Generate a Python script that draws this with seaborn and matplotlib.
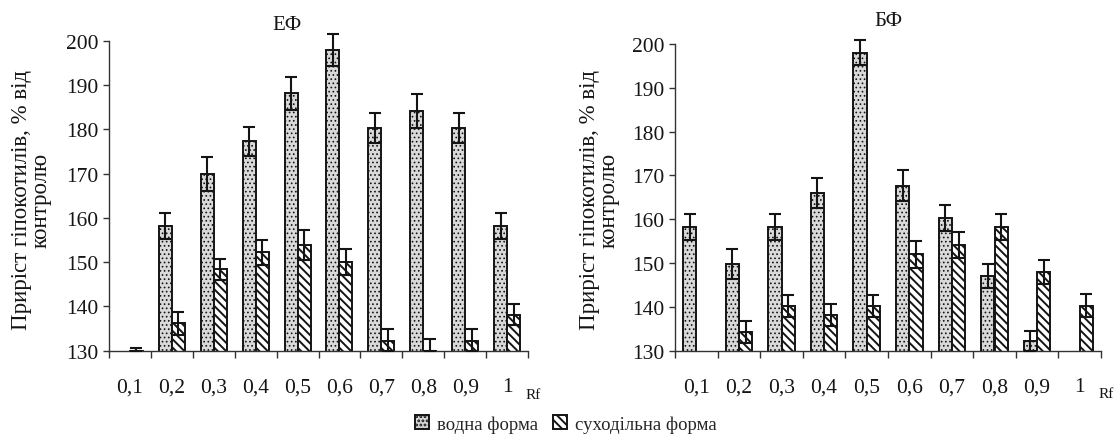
import numpy as np
import pandas as pd
import matplotlib
matplotlib.use("Agg")
import matplotlib.pyplot as plt
import seaborn as sns

# ---------------- data ----------------
rf_labels = ['0,1', '0,2', '0,3', '0,4', '0,5', '0,6', '0,7', '0,8', '0,9', '1']
form_names = ['водна форма', 'суходільна форма']
panel_titles = ['ЕФ', 'БФ']

ef_water = [np.nan, 158.2, 169.9, 177.3, 188.1, 197.9, 180.3, 184.2, 180.3, 158.2]
ef_water_err = [np.nan, 3.0, 3.9, 3.3, 3.8, 3.6, 3.4, 3.8, 3.4, 3.0]
ef_dry = [130.0, 136.2, 148.4, 152.2, 153.9, 150.1, 132.3, 130.0, 132.3, 138.1]
ef_dry_err = [0.6, 2.6, 2.4, 2.9, 3.4, 2.9, 2.6, 2.7, 2.6, 2.4]

bf_water = [158.2, 149.8, 158.2, 166.0, 198.0, 167.7, 160.3, 147.1, 132.3, np.nan]
bf_water_err = [3.0, 3.4, 3.0, 3.5, 2.9, 3.5, 3.0, 2.7, 2.3, np.nan]
bf_dry = [np.nan, 134.2, 140.3, 138.1, 140.3, 152.0, 154.2, 158.2, 148.0, 140.3]
bf_dry_err = [np.nan, 2.5, 2.5, 2.5, 2.5, 3.1, 3.0, 3.0, 2.7, 2.6]

y_ticks = [130, 140, 150, 160, 170, 180, 190, 200]
ylabel = 'Приріст гіпокотилів, % від\nконтролю'
xunit = 'Rf'


def long_df(water, water_err, dry, dry_err):
    rows = []
    for i, r in enumerate(rf_labels):
        rows.append((r, form_names[0], water[i], water_err[i]))
        rows.append((r, form_names[1], dry[i], dry_err[i]))
    return pd.DataFrame(rows, columns=['Rf', 'form', 'value', 'err'])


panels = [long_df(ef_water, ef_water_err, ef_dry, ef_dry_err),
          long_df(bf_water, bf_water_err, bf_dry, bf_dry_err)]

# ---------------- style ----------------
sns.set_theme(style='white')
FAM = ['Liberation Serif', 'DejaVu Serif']
plt.rcParams['font.family'] = FAM
plt.rcParams['font.serif'] = FAM
plt.rcParams['hatch.linewidth'] = 1.4
TXT = '#151515'

W, H = 1116, 439
fig = plt.figure(figsize=(W / 100, H / 100), dpi=100)

axes_px = [(109, 528, 41.7, 351.7), (675, 1101, 45.0, 351.7)]
ylabel_x = [31, 599]
title_pos = [(287, 25), (888, 21)]

styles = [dict(face='#d9d9d9', hatch='....', hlw=0.7),
          dict(face='white', hatch='\\\\\\\\', hlw=1.4)]

ymin, ymax = y_ticks[0], y_ticks[-1]

for k, df in enumerate(panels):
    x0, x1, yt, yb = axes_px[k]
    ax = fig.add_axes([x0 / W, 1 - yb / H, (x1 - x0) / W, (yb - yt) / H])
    sns.barplot(data=df, x='Rf', y='value', hue='form', order=rf_labels,
                hue_order=form_names, errorbar=None, width=0.62,
                palette=['#d9d9d9', 'white'], legend=False, ax=ax)

    for h, cont in enumerate(ax.containers[:2]):
        sub = df[df['form'] == form_names[h]].set_index('Rf')
        for p in cont:
            p.set_facecolor(styles[h]['face'])
            p.set_hatch(styles[h]['hatch'])
            if hasattr(p, 'set_hatch_linewidth'):
                p.set_hatch_linewidth(styles[h]['hlw'])
            p.set_edgecolor('#141414')
            p.set_linewidth(1.4)
            hgt = p.get_height()
            if not np.isfinite(hgt):
                continue
            xc = p.get_x() + p.get_width() / 2
            idx = int(round(xc))
            e = sub.loc[rf_labels[idx], 'err']
            if not np.isfinite(e):
                continue
            lo = min(e, hgt - ymin)
            ax.errorbar([xc], [hgt], yerr=[[lo], [e]], fmt='none',
                        ecolor='#141414', elinewidth=1.5, capsize=4.2,
                        capthick=1.5, clip_on=False, zorder=5)

    ax.set_ylim(ymin, ymax)
    ax.set_yticks(y_ticks)
    ax.set_xlim(-0.5, len(rf_labels) - 0.5)
    ax.set_xticks(range(len(rf_labels)))
    ax.set_xticklabels(rf_labels, fontfamily=FAM)
    ax.set_yticklabels([str(v) for v in y_ticks], fontfamily=FAM)
    ax.set_xticks(np.arange(-0.5, len(rf_labels), 1.0), minor=True)
    ax.set_xlabel('')
    ax.set_ylabel('')
    for s in ['top', 'right']:
        ax.spines[s].set_visible(False)
    for s in ['left', 'bottom']:
        ax.spines[s].set_color('#333333')
        ax.spines[s].set_linewidth(1.0)
    ax.tick_params(axis='x', which='major', length=0, pad=19, labelsize=15.5,
                   labelcolor=TXT)
    ax.tick_params(axis='x', which='minor', length=5, width=1.0,
                   direction='out', color='#333333', bottom=True)
    ax.tick_params(axis='y', which='major', length=4.5, width=1.0,
                   direction='out', left=True, pad=3, labelsize=15.5,
                   color='#333333', labelcolor=TXT)

    ax.text(0.995, -0.14, xunit, transform=ax.transAxes, ha='left',
            va='center', fontsize=11, color=TXT, fontfamily=FAM)

    fig.text(ylabel_x[k] / W, 1 - 200 / H, ylabel, rotation=90, ha='center',
             va='center', multialignment='center', fontsize=16.5,
             linespacing=0.9, color=TXT, fontfamily=FAM)
    tx, ty = title_pos[k]
    fig.text(tx / W, 1 - ty / H, panel_titles[k], ha='center', va='center',
             fontsize=15, color=TXT, fontfamily=FAM)

    if k == 0:
        handles = list(ax.containers[:2])

fig.legend(handles=handles, labels=form_names, loc='center',
           bbox_to_anchor=(0.507, 1 - 425 / H), ncol=2, frameon=False,
           prop={'family': FAM, 'size': 13.5},
           handlelength=0.75, handleheight=0.75,
           handletextpad=0.4, columnspacing=0.8, borderpad=0)

fig.savefig('out.png', dpi=100)
